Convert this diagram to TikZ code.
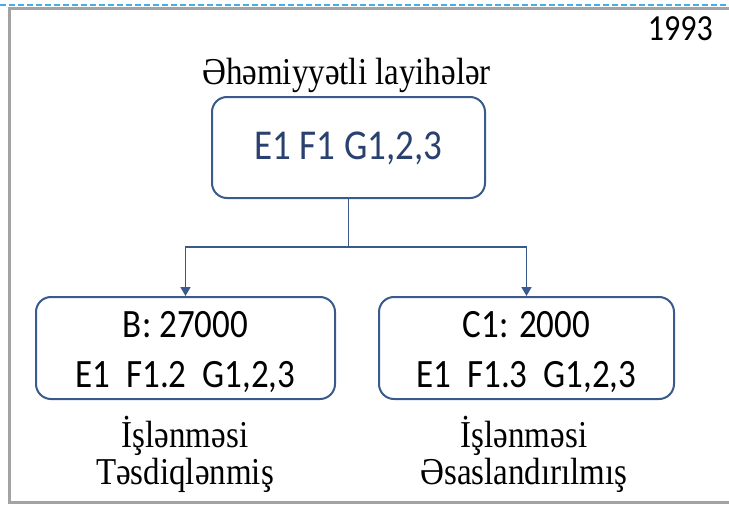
\documentclass[tikz,border=0pt]{standalone}
\usepackage{fontspec}
\usepackage{graphicx}
\setmainfont{Liberation Serif}
\newfontfamily\calib{Carlito}
\usetikzlibrary{arrows.meta}

\definecolor{boxblue}{HTML}{3B5A8C}
\definecolor{textblue}{HTML}{2A4170}
\definecolor{framegray}{HTML}{A3A3A3}
\definecolor{dashblue}{HTML}{45AEE6}

% text in the scan is a little taller than wide
\newcommand{\tall}[1]{\scalebox{1}[1.15]{#1}}

\tikzset{
  box/.style={
    draw=boxblue,
    line width=2pt,
    rounded corners=15pt,
    inner sep=0pt,
    align=center
  },
  note/.style={
    inner sep=0pt,
    align=center,
    font=\fontsize{33}{37}\selectfont
  },
  link/.style={
    draw=boxblue,
    line width=1.7pt
  }
}

\begin{document}
\begin{tikzpicture}[x=1pt,y=-1pt]
  \useasboundingbox (0,0) rectangle (729,506);
  \draw[dashblue, line width=1.5pt, dash pattern=on 6pt off 3pt] (0,5) -- (729,5);
  \draw[framegray, line width=3pt] (729,8.5) -- (9.5,8.5) -- (9.5,502) -- (729,502);

  \node[font=\calib\fontsize{32}{36}\selectfont, anchor=base east, inner sep=0pt] (year) at (713,40) {\tall{1993}};
  \node[note, anchor=base] (title) at (346.5,84) {\tall{Əhəmiyyətli layihələr}};

  \node[box, minimum width=273pt, minimum height=101pt,
    font=\calib\fontsize{37}{40}\selectfont, text=textblue] (main) at (348.5,147.5) {\rule{0pt}{30pt}\tall{E1 F1 G1,2,3}};

  \node[box, minimum width=299pt, minimum height=102pt,
    font=\calib\fontsize{35}{50}\selectfont] (bbox) at (185.5,348)
    {\rule{0pt}{34pt}\tall{B: 27000}\\\tall{E1\ \ F1.2\ \ G1,2,3}};
  \node[box, minimum width=295pt, minimum height=102pt,
    font=\calib\fontsize{35}{50}\selectfont] (cbox) at (526.5,348)
    {\rule{0pt}{34pt}\tall{C1: 2000}\\\tall{E1\ \ F1.3\ \ G1,2,3}};

  \node[note, anchor=north] (bnote) at (185,416) {\tall{İşlənməsi}\\\tall{Təsdiqlənmiş}};
  \node[note, anchor=north] (cnote) at (524,416) {\tall{İşlənməsi}\\\tall{Əsaslandırılmış}};

  \coordinate (split) at (348.5,247);
  \draw[link] (main.south) -- (split);
  \draw[link, -{Triangle[width=10pt,length=9pt]}] (split) -| (bbox.north);
  \draw[link, -{Triangle[width=10pt,length=9pt]}] (split) -| (cbox.north);
\end{tikzpicture}
\end{document}
